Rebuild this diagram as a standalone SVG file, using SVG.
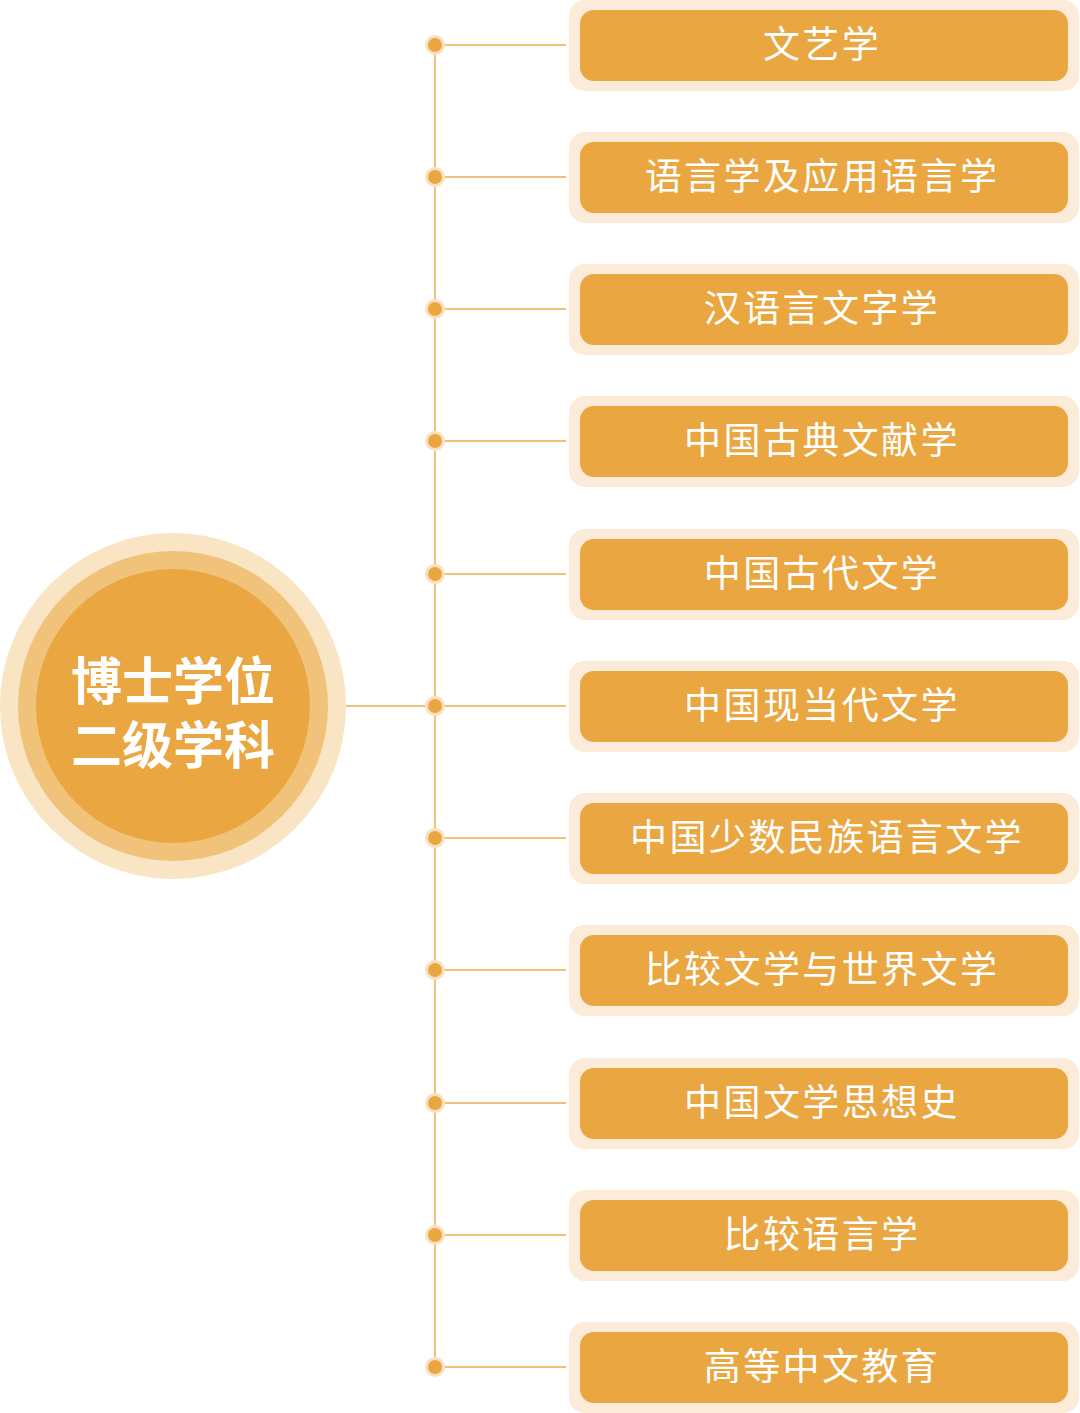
<svg xmlns="http://www.w3.org/2000/svg" width="1080" height="1413" viewBox="0 0 1080 1413">
<style>
.ob{fill:#FBEBD8}
.ib{fill:#EAA640}
.lb{fill:#fff;font-family:"Noto Sans CJK SC","Noto Sans",sans-serif;font-size:37px;text-anchor:middle;letter-spacing:2.4px}
.ln{stroke:#EDAE52;stroke-width:1.5;fill:none}
.d1{fill:#F8E0C0}
.d2{fill:#EAA640}
</style>
<rect width="1080" height="1413" fill="#fff"/>
<g id="connectors">
<line class="ln" x1="435" y1="45" x2="435" y2="1367"/>
<line class="ln" x1="345" y1="706" x2="435" y2="706"/>
<line class="ln" x1="435" y1="45" x2="566" y2="45"/>
<line class="ln" x1="435" y1="177" x2="566" y2="177"/>
<line class="ln" x1="435" y1="309" x2="566" y2="309"/>
<line class="ln" x1="435" y1="441" x2="566" y2="441"/>
<line class="ln" x1="435" y1="574" x2="566" y2="574"/>
<line class="ln" x1="435" y1="706" x2="566" y2="706"/>
<line class="ln" x1="435" y1="838" x2="566" y2="838"/>
<line class="ln" x1="435" y1="970" x2="566" y2="970"/>
<line class="ln" x1="435" y1="1103" x2="566" y2="1103"/>
<line class="ln" x1="435" y1="1235" x2="566" y2="1235"/>
<line class="ln" x1="435" y1="1367" x2="566" y2="1367"/>
<g>
<circle class="d1" cx="435" cy="45" r="10"/><circle class="d2" cx="435" cy="45" r="7"/>
<circle class="d1" cx="435" cy="177" r="10"/><circle class="d2" cx="435" cy="177" r="7"/>
<circle class="d1" cx="435" cy="309" r="10"/><circle class="d2" cx="435" cy="309" r="7"/>
<circle class="d1" cx="435" cy="441" r="10"/><circle class="d2" cx="435" cy="441" r="7"/>
<circle class="d1" cx="435" cy="574" r="10"/><circle class="d2" cx="435" cy="574" r="7"/>
<circle class="d1" cx="435" cy="706" r="10"/><circle class="d2" cx="435" cy="706" r="7"/>
<circle class="d1" cx="435" cy="838" r="10"/><circle class="d2" cx="435" cy="838" r="7"/>
<circle class="d1" cx="435" cy="970" r="10"/><circle class="d2" cx="435" cy="970" r="7"/>
<circle class="d1" cx="435" cy="1103" r="10"/><circle class="d2" cx="435" cy="1103" r="7"/>
<circle class="d1" cx="435" cy="1235" r="10"/><circle class="d2" cx="435" cy="1235" r="7"/>
<circle class="d1" cx="435" cy="1367" r="10"/><circle class="d2" cx="435" cy="1367" r="7"/>
</g>
</g>
<g id="root">
<circle cx="173" cy="706" r="173" fill="#F9E4C4"/>
<circle cx="173" cy="706" r="155" fill="#F0C27A"/>
<circle cx="173" cy="706" r="137" fill="#EAA640"/>
<text fill="#fff" font-family="Noto Sans CJK SC,sans-serif" font-size="51" font-weight="bold" text-anchor="middle"><tspan x="173" y="700">博士学位</tspan><tspan x="173" y="764">二级学科</tspan></text>
</g>
<g id="n1"><rect class="ob" x="569" y="0" width="510" height="91" rx="16"/><rect class="ib" x="580" y="10" width="488" height="71" rx="14"/><text class="lb" x="822" y="58">文艺学</text></g>
<g id="n2"><rect class="ob" x="569" y="132" width="510" height="91" rx="16"/><rect class="ib" x="580" y="142" width="488" height="71" rx="14"/><text class="lb" x="822" y="190">语言学及应用语言学</text></g>
<g id="n3"><rect class="ob" x="569" y="264" width="510" height="91" rx="16"/><rect class="ib" x="580" y="274" width="488" height="71" rx="14"/><text class="lb" x="822" y="322">汉语言文字学</text></g>
<g id="n4"><rect class="ob" x="569" y="396" width="510" height="91" rx="16"/><rect class="ib" x="580" y="406" width="488" height="71" rx="14"/><text class="lb" x="822" y="454">中国古典文献学</text></g>
<g id="n5"><rect class="ob" x="569" y="529" width="510" height="91" rx="16"/><rect class="ib" x="580" y="539" width="488" height="71" rx="14"/><text class="lb" x="822" y="587">中国古代文学</text></g>
<g id="n6"><rect class="ob" x="569" y="661" width="510" height="91" rx="16"/><rect class="ib" x="580" y="671" width="488" height="71" rx="14"/><text class="lb" x="822" y="719">中国现当代文学</text></g>
<g id="n7"><rect class="ob" x="569" y="793" width="510" height="91" rx="16"/><rect class="ib" x="580" y="803" width="488" height="71" rx="14"/><text class="lb" x="827" y="851">中国少数民族语言文学</text></g>
<g id="n8"><rect class="ob" x="569" y="925" width="510" height="91" rx="16"/><rect class="ib" x="580" y="935" width="488" height="71" rx="14"/><text class="lb" x="822" y="983">比较文学与世界文学</text></g>
<g id="n9"><rect class="ob" x="569" y="1058" width="510" height="91" rx="16"/><rect class="ib" x="580" y="1068" width="488" height="71" rx="14"/><text class="lb" x="822" y="1116">中国文学思想史</text></g>
<g id="n10"><rect class="ob" x="569" y="1190" width="510" height="91" rx="16"/><rect class="ib" x="580" y="1200" width="488" height="71" rx="14"/><text class="lb" x="822" y="1248">比较语言学</text></g>
<g id="n11"><rect class="ob" x="569" y="1322" width="510" height="91" rx="16"/><rect class="ib" x="580" y="1332" width="488" height="71" rx="14"/><text class="lb" x="822" y="1380">高等中文教育</text></g>
</svg>
